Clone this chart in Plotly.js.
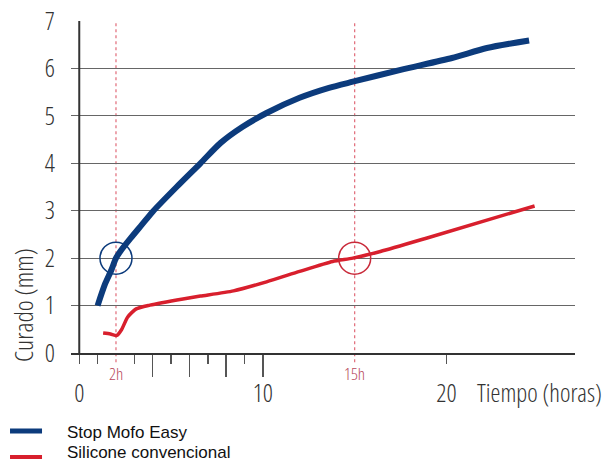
<!DOCTYPE html>
<html>
<head>
<meta charset="utf-8">
<script src="https://cdn.plot.ly/plotly-3.0.1.min.js"></script>
<style>
html,body{margin:0;padding:0;background:#fff;}
#chart{width:607px;height:463px;}
.xtick text, .ytick text, .x2tick text, text.annotation-text { font-stretch: 85% !important; }
</style>
</head>
<body>
<div id="chart"></div>
<script>
// ---- data ----
var seriesNames = ['Stop Mofo Easy', 'Silicone convencional'];
var blueX = [1.0, 1.4, 1.75, 2.0, 2.25, 2.8, 3.4, 4.0, 5.3, 6.6, 7.7, 8.9, 10.2, 12.0, 13.6, 14.9, 17.5, 20.3, 22.2, 24.5];
var blueY = [1.0, 1.45, 1.75, 2.0, 2.15, 2.42, 2.7, 2.98, 3.5, 4.0, 4.43, 4.77, 5.06, 5.38, 5.59, 5.72, 5.97, 6.22, 6.43, 6.59];
var redX = [1.3, 1.7, 2.05, 2.3, 2.64, 3.1, 3.85, 5.65, 6.6, 8.4, 10.2, 12.0, 13.8, 14.9, 16.4, 18.9, 24.8];
var redY = [0.42, 0.40, 0.37, 0.49, 0.76, 0.93, 1.01, 1.14, 1.2, 1.31, 1.5, 1.72, 1.93, 2.0, 2.14, 2.42, 3.1];
var markerHours = [2, 15];
var markerLabels = ['2h', '15h'];
var circleX = [2, 15];
var circleY = [2, 2];
var yTicks = [0, 1, 2, 3, 4, 5, 6, 7];
var xLabelTicks = [0, 10, 20];
var xLongTicks = [4, 6, 8, 10];
var xShortTicks = [0, 1, 3, 5, 7, 9, 20];
var xTitle = 'Tiempo (horas)';
var yTitle = 'Curado (mm)';

// ---- styles ----
var BLUE = '#0c3b7c';
var RED = '#d81f2d';
var COLORS = [BLUE, RED];
var COND = '"Open Sans", "DejaVu Sans Condensed", sans-serif';
var LEG = '"Liberation Sans", Arial, sans-serif';
var xRange = [-0.45, 27];
var yRange = [0, 7];

var traces = [
  {x: blueX, y: blueY, name: seriesNames[0], type: 'scatter', mode: 'lines',
   line: {color: BLUE, width: 6, shape: 'spline', smoothing: 0.7}, showlegend: false},
  {x: redX, y: redY, name: seriesNames[1], type: 'scatter', mode: 'lines',
   line: {color: RED, width: 3.5, shape: 'spline', smoothing: 0.6}, showlegend: false},
  // carrier for the label axis
  {x: xLabelTicks, y: xLabelTicks.map(function () { return null; }), xaxis: 'x2', yaxis: 'y',
   type: 'scatter', mode: 'lines', showlegend: false, hoverinfo: 'skip'}
];

var shapes = [];
shapes.push({type: 'line', xref: 'x', yref: 'y', x0: 0, x1: 0, y0: yRange[0], y1: yRange[1],
  line: {color: '#333', width: 2}, layer: 'above'});
markerHours.forEach(function (h) {
  shapes.push({type: 'line', xref: 'x', yref: 'paper', x0: h, x1: h, y0: -0.028, y1: 1,
    line: {color: '#e06a78', width: 1.2, dash: 'dot'}, layer: 'below'});
});
var circleColors = [BLUE, '#c92a3a'];
circleX.forEach(function (cx, i) {
  shapes.push({type: 'circle', xref: 'x', yref: 'y', xsizemode: 'pixel', ysizemode: 'pixel',
    xanchor: cx, yanchor: circleY[i], x0: -16, x1: 16, y0: -16, y1: 16,
    line: {color: circleColors[i], width: 1.5}, layer: 'above'});
});
// legend swatches
var legY = [-0.235, -0.313];
var legW = [5, 4];
seriesNames.forEach(function (n, i) {
  shapes.push({type: 'line', xref: 'paper', yref: 'paper', x0: -0.121, x1: -0.0575,
    y0: legY[i], y1: legY[i], line: {color: COLORS[i], width: legW[i]}});
});

var annotations = [];
markerHours.forEach(function (h, i) {
  annotations.push({x: h, xref: 'x', y: -0.063, yref: 'paper', text: markerLabels[i],
    showarrow: false, xanchor: 'center', yanchor: 'middle',
    font: {family: COND, size: 17, weight: 300, color: '#b8495c'}});
});
annotations.push({x: 0.806, xref: 'paper', y: -0.118, yref: 'paper', text: xTitle,
  showarrow: false, xanchor: 'left', yanchor: 'middle', xshift: -2,
  font: {family: COND, size: 25, weight: 300, color: '#333'}});
annotations.push({x: -0.095, xref: 'paper', y: 0.145, yref: 'paper', text: yTitle,
  showarrow: false, xanchor: 'center', yanchor: 'middle', textangle: -90,
  font: {family: COND, size: 26, weight: 300, color: '#333'}});
var legTextY = [-0.238, -0.3];
seriesNames.forEach(function (n, i) {
  annotations.push({x: -0.012, xref: 'paper', y: legTextY[i], yref: 'paper', text: n,
    showarrow: false, xanchor: 'left', yanchor: 'middle',
    font: {family: LEG, size: 17, color: '#111'}});
});

var layout = {
  width: 607, height: 463,
  margin: {l: 71, r: 32, t: 21, b: 110, pad: 0, autoexpand: false},
  paper_bgcolor: '#fff', plot_bgcolor: '#fff',
  showlegend: false,
  xaxis: {range: xRange, showgrid: false, zeroline: false, showline: true,
    linecolor: '#333', linewidth: 2,
    tickmode: 'array', tickvals: xLongTicks, ticks: 'outside', ticklen: 22, tickwidth: 1.5,
    tickcolor: '#555', showticklabels: false,
    minor: {tickmode: 'array', tickvals: xShortTicks, ticks: 'outside', ticklen: 9,
      tickwidth: 1.5, tickcolor: '#555', showgrid: false}},
  xaxis2: {range: xRange, overlaying: 'x', anchor: 'y', side: 'bottom', showgrid: false,
    zeroline: false, showline: false, tickmode: 'array', tickvals: xLabelTicks,
    ticks: 'outside', ticklen: 18, tickcolor: 'rgba(0,0,0,0)',
    tickfont: {family: COND, size: 25, weight: 300, color: '#333'}},
  yaxis: {range: yRange, tickmode: 'array', tickvals: yTicks, showgrid: true,
    gridcolor: '#666', gridwidth: 1, zeroline: false, showline: false,
    ticks: 'outside', ticklen: 10, tickcolor: 'rgba(0,0,0,0)',
    tickfont: {family: COND, size: 25, weight: 300, color: '#333'}},
  shapes: shapes,
  annotations: annotations
};

Plotly.newPlot('chart', traces, layout, {staticPlot: true, displayModeBar: false});
</script>
</body>
</html>
